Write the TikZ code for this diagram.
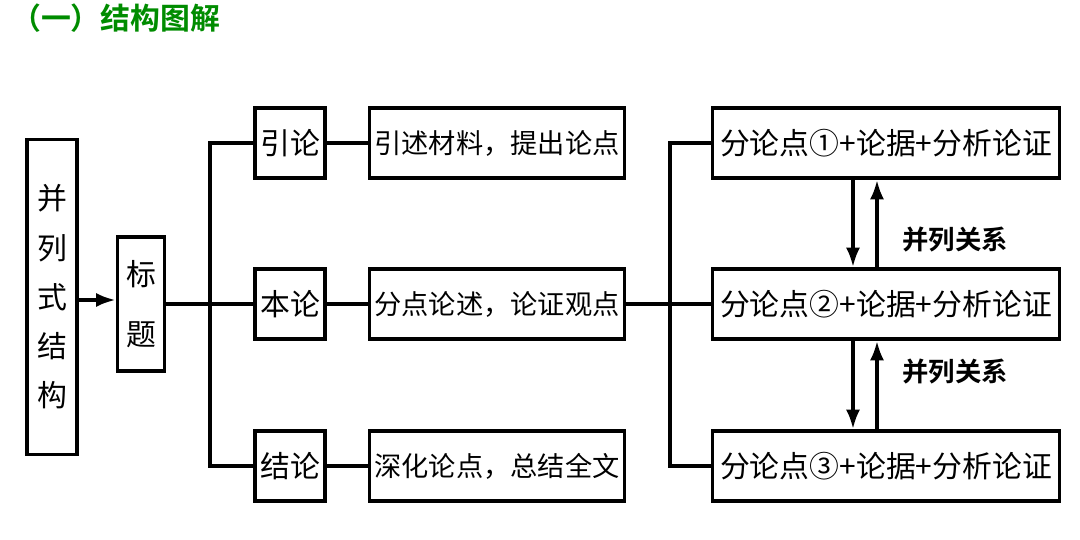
\documentclass[tikz,border=0pt]{standalone}
\usepackage{fontspec}
\newfontfamily\cjk{Noto Sans CJK SC}
\newfontfamily\cjkb{Noto Sans CJK SC}[BoldFont={* Bold}]
\usetikzlibrary{arrows.meta}
\begin{document}
\begin{tikzpicture}[x=0.02cm,y=-0.02cm,
  bx/.style={draw,line width=2.2pt,inner sep=0,font=\cjk\fontsize{17}{20}\selectfont},
  ln/.style={line width=2.4pt},
  ar/.style={line width=2pt,-{Latex[length=11pt,width=8pt]}}]
\useasboundingbox (0,0) rectangle (1080,540);
\node[anchor=west,text=green!55!black,font=\cjkb\bfseries\fontsize{17}{20}\selectfont] (title) at (5,18) {（一）结构图解};
\node[bx,minimum width=50*0.02cm,minimum height=315*0.02cm,align=center,font=\cjk\fontsize{17}{28}\selectfont] (a) at (52,297) {并\\列\\式\\结\\构};
\node[bx,minimum width=47*0.02cm,minimum height=134*0.02cm,align=center,font=\cjk\fontsize{17}{34}\selectfont] (b) at (141,304) {标\\题};
\draw[ar] (a.east|-0,300) coordinate (a1) -- (b.west|-0,300);
\foreach \n/\t/\y in {y/引论/143,z/本论/304,j/结论/466}{
  \node[bx,minimum width=70*0.02cm,minimum height=70*0.02cm] (\n) at (290,\y) {\t};
}
\foreach \n/\t/\y in {ty/引述材料，提出论点/143,tz/分点论述，论证观点/304,tj/深化论点，总结全文/466}{
  \node[bx,minimum width=255*0.02cm,minimum height=70*0.02cm,text width=250*0.02cm,align=center,font=\cjk\fontsize{15.5}{20}\selectfont] (\n) at (497,\y) {\t};
}
\foreach \n/\t/\y in {r1/分论点①+论据+分析论证/143,r2/分论点②+论据+分析论证/304,r3/分论点③+论据+分析论证/466}{
  \node[bx,minimum width=347*0.02cm,minimum height=70*0.02cm] (\n) at (886,\y) {\t};
}
\coordinate (m) at (210,304);
\draw[ln] (b.east) -- (m);
\draw[ln] (y.west) -| (m) |- (j.west);
\draw[ln] (m) -- (z.west);
\foreach \n in {y,z,j}{\draw[ln] (\n.east) -- (t\n.west);}
\coordinate (n) at (670,304);
\draw[ln] (tz.east) -- (n);
\draw[ln] (r1.west) -| (n) |- (r3.west);
\draw[ln] (n) -- (r2.west);
\draw[ar] (r1.south-|853,0) -- (r2.north-|853,0);
\draw[ar] (r2.north-|877,0) -- (r1.south-|877,0);
\draw[ar] (r2.south-|853,0) -- (r3.north-|853,0);
\draw[ar] (r3.north-|877,0) -- (r2.south-|877,0);
\node[font=\cjkb\bfseries\fontsize{15}{17}\selectfont] (l1) at (955,240) {并列关系};
\node[font=\cjkb\bfseries\fontsize{15}{17}\selectfont] (l2) at (955,372) {并列关系};
\end{tikzpicture}
\end{document}
